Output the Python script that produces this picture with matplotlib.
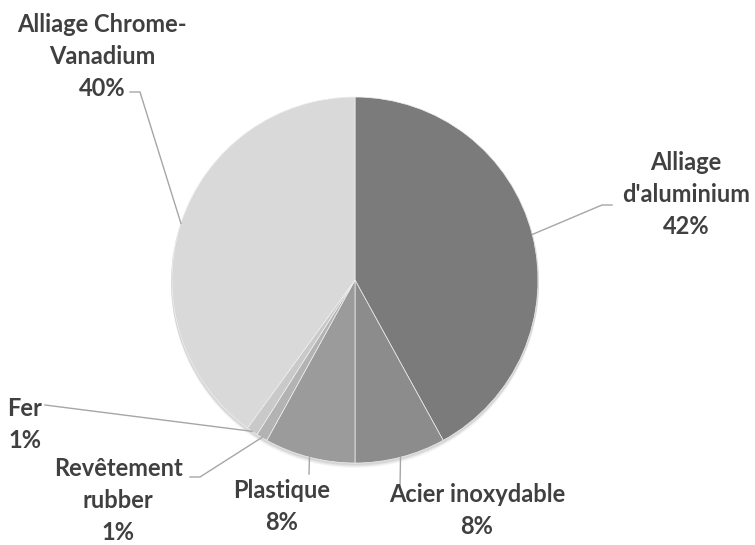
import numpy as np
import matplotlib
matplotlib.use("Agg")
import matplotlib.pyplot as plt
from matplotlib.patches import Circle

# data
materials = ["Alliage d'aluminium", "Acier inoxydable", "Plastique",
             "Revêtement rubber", "Fer", "Alliage Chrome-Vanadium"]
shares = [42, 8, 8, 1, 1, 40]
label_lines = [["Alliage", "d'aluminium", "42%"],
               ["Acier inoxydable", "8%"],
               ["Plastique", "8%"],
               ["Revêtement", "rubber", "1%"],
               ["Fer", "1%"],
               ["Alliage Chrome-", "Vanadium", "40%"]]
colors = ["#7b7b7b", "#8c8c8c", "#9b9b9b", "#b3b3b3", "#c9c9c9", "#d9d9d9"]

W, H = 755, 545
cx, cy, r = 355, H - 280, 183

# label layout: (x of text center, y of first line), leader elbow points
label_pos = [(686, 163), (477, 494), (282, 490), (118, 468), (25, 408), (102, 25)]
elbows = [[(602, 205), (612, 205)],
          [(400, 488)],
          [(309, 474)],
          [(200, 477), (190, 477)],
          [(45, 405)],
          [(140, 92), (130, 92)]]
line_gap = 32

fig = plt.figure(figsize=(W / 100, H / 100), dpi=100)
ax = fig.add_axes([0, 0, 1, 1])

# soft shadow under the pie
for i, a in enumerate([0.05, 0.05, 0.04, 0.03]):
    ax.add_patch(Circle((cx, cy - 1 - i), r + 1, color="black", alpha=a, lw=0, zorder=0))

wedges, _ = ax.pie(shares, colors=colors, startangle=90, counterclock=False,
                   center=(cx, cy), radius=r, frame=True,
                   wedgeprops=dict(edgecolor="#f0f0f0", linewidth=0.5))
ax.set_xlim(0, W)
ax.set_ylim(0, H)
ax.set_aspect("equal")
ax.axis("off")

for w, lines, (tx, ty), elb in zip(wedges, label_lines, label_pos, elbows):
    mid = np.deg2rad((w.theta1 + w.theta2) / 2)
    ax0 = cx + r * np.cos(mid)
    ay0 = cy + r * np.sin(mid)
    xs = [ax0] + [p[0] for p in elb]
    ys = [ay0] + [H - p[1] for p in elb]
    ax.plot(xs, ys, color="#a6a6a6", lw=1, zorder=1)
    for k, t in enumerate(lines):
        ax.text(tx, H - (ty + k * line_gap), t, ha="center", va="center",
                fontsize=17, fontweight="bold", color="#404040", family="Lato")

fig.savefig("out.png", dpi=100, facecolor="white")
